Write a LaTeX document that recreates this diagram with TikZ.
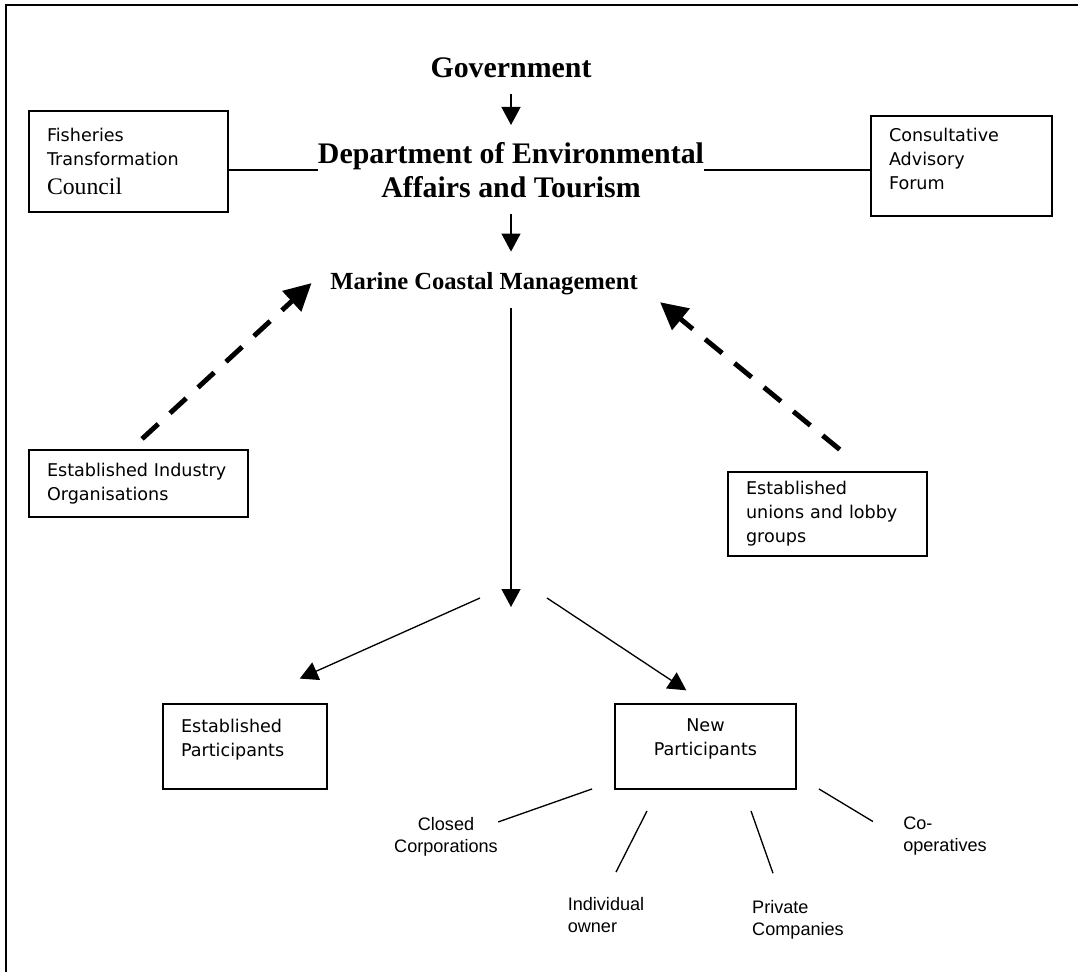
\documentclass[tikz,border=0pt]{standalone}
\usepackage{fontspec}
\setmainfont{Liberation Serif}
\newfontfamily\boxfont{DejaVu Sans}
\newfontfamily\tagfont{Liberation Sans}
\usetikzlibrary{arrows.meta}

\begin{document}
\begin{tikzpicture}[
  x=0.02cm, y=-0.02cm,
  title/.style={font=\fontsize{17}{19.3}\selectfont\bfseries, align=center, inner sep=0pt},
  subtitle/.style={font=\fontsize{14}{16}\selectfont\bfseries, inner sep=0pt},
  panel/.style={
    rectangle, draw=black, line width=1.1pt, inner xsep=0.36cm, inner ysep=0pt,
    font=\boxfont\fontsize{10}{13.6}\selectfont, align=left
  },
  entity/.style={font=\tagfont\fontsize{10.3}{12.8}\selectfont, inner sep=0pt},
  arrow/.style={-{Triangle[width=0.38cm,length=0.36cm]}, black, line width=0.75pt},
  link/.style={black, line width=0.75pt},
  lobby/.style={
    -{Triangle[width=0.54cm,length=0.54cm]}, black, line width=2.8pt,
    dash pattern=on 0.44cm off 0.32cm
  },
]

% Page and open frame
\useasboundingbox (0,0) rectangle (1078,972);
\draw[line width=1.1pt] (6,972) -- (6,5) -- (1078,5);

% Government chain
\node[title, anchor=base] (gov) at (511,78) {Government};
\node[title] (dept) at (511,170) {Department of Environmental\\Affairs and Tourism};
\node[subtitle, anchor=base] (mcm) at (484,290) {Marine Coastal Management};

\draw[arrow, shorten <=0.3cm, shorten >=0.34cm] (gov.south) -- (dept.north);
\draw[arrow, shorten <=0.32cm, shorten >=0.42cm] (dept.south) -- (dept.south |- mcm.north);

% Advisory bodies beside the department
\node[panel, text width=3.26cm, minimum height=2.02cm] (ftc) at (128.5,161.5)
  {Fisheries\\Transformation\\[2.8pt]{\rmfamily\fontsize{13.5}{13.6}\selectfont Council}};
\node[panel, text width=2.9cm, minimum height=2.0cm] (caf) at (961.5,166)
  {Consultative\\Advisory\\Forum\rule[-8pt]{0pt}{0pt}};

\draw[link] (ftc.east |- dept.west) -- (dept.west);
\draw[link] (dept.east) -- (dept.east -| caf.west);

% Lobbying from established interests
\node[panel, text width=3.66cm, minimum height=1.34cm] (eio) at (138.5,483.5)
  {Established Industry\\Organisations};
\node[panel, text width=3.26cm, minimum height=1.68cm] (eul) at (827.5,514)
  {Established\\unions and lobby\\groups};

\draw[lobby, shorten <=0.3cm, shorten >=0.5cm] ([xshift=-0.15cm]eio.north) -- ([yshift=0.36cm]mcm.west);
\draw[lobby, shorten <=0.68cm, shorten >=0.57cm] ([xshift=0.77cm]eul.north) -- (mcm.east);

% Allocation to participants
\coordinate (fork) at (511,607);
\coordinate (forkl) at (480,598);
\coordinate (forkr) at (547,598);

\node[panel, text width=2.56cm, minimum height=1.7cm] (ep) at (245,746.5)
  {Established\\Participants\rule[-10.3pt]{0pt}{0pt}};
\node[panel, align=center, text width=2.9cm, minimum height=1.7cm] (np) at (705.5,746.5)
  {New\\Participants\rule[-10.3pt]{0pt}{0pt}};

\draw[arrow, shorten <=0.25cm] (dept.south |- mcm.south) -- (fork);
\draw[arrow, shorten >=1.2cm] (forkl) -- (ep.north);
\draw[arrow, shorten >=0.46cm] (forkr) -- (np.north);

% Kinds of new participants
\node[entity, align=center] (closed) at (446,837) {Closed\\Corporations};
\node[entity, align=left] (indiv) at (606,915) {Individual\\owner};
\node[entity, align=left] (priv) at (798,920) {Private\\Companies};
\node[entity, align=left] (coop) at (945,836) {Co-\\operatives};

\draw[link] ([shift={(-22,-1)}]np.south west) -- ([shift={(0,5)}]closed.north east);
\draw[link] ([shift={(-58.5,21)}]np.south) -- ([shift={(10,-24.7)}]indiv.north);
\draw[link] ([shift={(45.5,21)}]np.south) -- ([shift={(-25,-26.7)}]priv.north);
\draw[link] ([shift={(22,-1)}]np.south east) -- ([shift={(-30,5.3)}]coop.north west);

\end{tikzpicture}
\end{document}
